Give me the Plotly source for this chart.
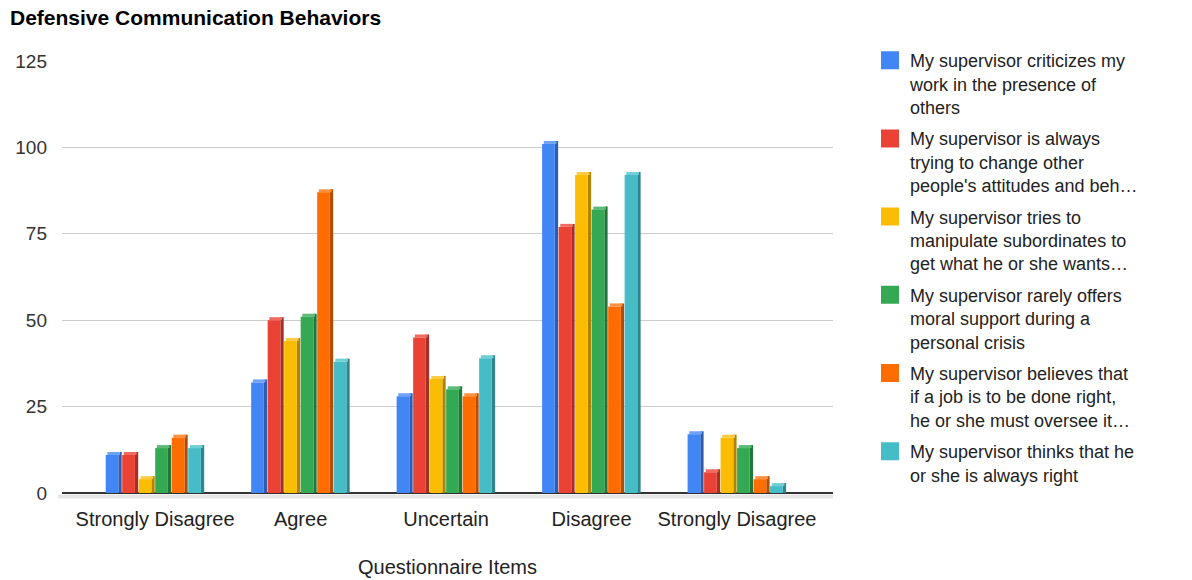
import plotly.graph_objects as go

# ---- data -------------------------------------------------------------
CATEGORIES = ["Strongly Disagree", "Agree", "Uncertain", "Disagree", "Strongly Disagree"]

SERIES_NAMES = [
    "My supervisor criticizes my<br>work in the presence of<br>others",
    "My supervisor is always<br>trying to change other<br>people's attitudes and beh…",
    "My supervisor tries to<br>manipulate subordinates to<br>get what he or she wants…",
    "My supervisor rarely offers<br>moral support during a<br>personal crisis",
    "My supervisor believes that<br>if a job is to be done right,<br>he or she must oversee it…",
    "My supervisor thinks that he<br>or she is always right",
]

CRITICIZES = [11, 32, 28, 101, 17]
CHANGE_ATTITUDES = [11, 50, 45, 77, 6]
MANIPULATES = [4, 44, 33, 92, 16]
NO_MORAL_SUPPORT = [13, 51, 30, 82, 13]
OVERSEES = [16, 87, 28, 54, 4]
ALWAYS_RIGHT = [13, 38, 39, 92, 2]

SERIES_VALUES = [CRITICIZES, CHANGE_ATTITUDES, MANIPULATES,
                 NO_MORAL_SUPPORT, OVERSEES, ALWAYS_RIGHT]

# ---- styling ----------------------------------------------------------
FRONT = ["#4285F4", "#EA4335", "#FBBC04", "#34A853", "#FF6D01", "#46BDC6"]
SIDE = ["#2E5DAE", "#A32F27", "#B08403", "#247638", "#B34C01", "#31848B"]
TOP = ["#6FA2F7", "#EF6C61", "#FCCB43", "#5DBB77", "#FF8F40", "#70CED5"]

FONT = "Liberation Sans, Arial, Helvetica, sans-serif"
W, H = 1192, 580
M_L, M_R, M_T, M_B = 62, 359, 61, 87
X_RANGE = [-0.64, 4.66]
Y_RANGE = [0, 125]

plot_w = W - M_L - M_R
plot_h = H - M_T - M_B
px_x = plot_w / (X_RANGE[1] - X_RANGE[0])   # pixels per x unit
px_y = plot_h / (Y_RANGE[1] - Y_RANGE[0])   # pixels per y unit

FRONT_W = 12.7     # px, front face width
PITCH = 16.5       # px, distance between neighbouring bars
GROUP_LEFT = -49.4  # px, first bar's left edge relative to category centre
DEPTH_X = 3.3      # px, 3D extrusion to the right
DEPTH_Y = 3.0      # px, 3D extrusion upwards

positions = list(range(len(CATEGORIES)))
dy = DEPTH_Y / px_y

fig = go.Figure()

for i, (vals, name) in enumerate(zip(SERIES_VALUES, SERIES_NAMES)):
    off = (GROUP_LEFT + i * PITCH) / px_x
    fw = FRONT_W / px_x
    common = dict(x=positions, showlegend=False, hoverinfo="skip",
                  marker_line_width=0)
    # side face (darker), extruded up and to the right
    fig.add_trace(go.Bar(y=[v + dy for v in vals], base=[0] * len(vals),
                         offset=off + fw, width=DEPTH_X / px_x,
                         marker_color=SIDE[i], **common))
    # top face (lighter)
    fig.add_trace(go.Bar(y=[dy] * len(vals), base=vals,
                         offset=off + DEPTH_X / 2 / px_x, width=fw,
                         marker_color=TOP[i], **common))
    # front face carrying the value
    fig.add_trace(go.Bar(x=positions, y=vals, offset=off, width=fw,
                         marker_color=FRONT[i], marker_line_width=0,
                         name=name.replace("<br>", " "), showlegend=False,
                         hovertemplate="%{y}<extra></extra>"))

# legend entries with larger square swatches
for i, name in enumerate(SERIES_NAMES):
    fig.add_trace(go.Scatter(x=[None], y=[None], mode="markers", name=name,
                             legendgroup=f"s{i}",
                             marker=dict(symbol="square", size=16, color=FRONT[i],
                                         line=dict(color=FRONT[i], width=2))))

# light floor strip under the baseline
fig.add_shape(type="rect", xref="paper", yref="paper",
              x0=-0.005, x1=1.0, y0=-5.5 / plot_h, y1=-1.5 / plot_h,
              fillcolor="#E6E6E6", line_width=0, layer="below")

fig.update_layout(
    width=W, height=H,
    margin=dict(l=M_L, r=M_R, t=M_T, b=M_B, autoexpand=False),
    paper_bgcolor="white", plot_bgcolor="white",
    barmode="overlay",
    font=dict(family=FONT, size=18, color="#222222"),
    title=dict(text="<b>Defensive Communication Behaviors</b>",
               font=dict(family=FONT, size=21, color="#000000"),
               xref="container", x=10 / W, xanchor="left",
               yref="container", y=1 - 18 / H, yanchor="middle"),
    xaxis=dict(range=X_RANGE, tickvals=positions, ticktext=CATEGORIES,
               showgrid=False, zeroline=False, showline=False, ticks="",
               ticklabelstandoff=12,
               tickfont=dict(size=20, color="#222222"),
               title=dict(text="Questionnaire Items", standoff=30,
                          font=dict(size=20, color="#222222"))),
    yaxis=dict(range=Y_RANGE, tickvals=[0, 25, 50, 75, 100, 125],
               showgrid=True, gridcolor="#CCCCCC", gridwidth=1,
               zeroline=True, zerolinecolor="#333333", zerolinewidth=2,
               showline=False, ticks="", ticklabelstandoff=14,
               tickfont=dict(size=19, color="#333333")),
    legend=dict(x=(870 - M_L) / plot_w, xanchor="left",
                y=1 + 19 / plot_h, yanchor="top", valign="top",
                maxheight=560,
                tracegroupgap=5, font=dict(size=18, color="#222222"),
                bgcolor="rgba(0,0,0,0)", itemclick=False, itemdoubleclick=False),
)

fig.write_html("out.html")
